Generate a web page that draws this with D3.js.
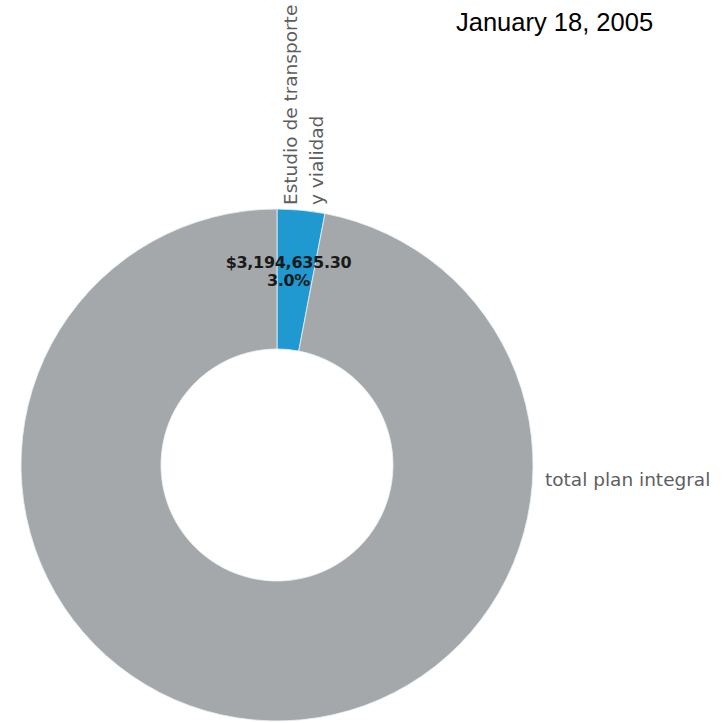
<!DOCTYPE html>
<html>
<head>
<meta charset="utf-8">
<script src="https://cdn.jsdelivr.net/npm/d3@7"></script>
<style>
  html, body { margin: 0; padding: 0; background: #ffffff; }
  svg { display: block; }
</style>
</head>
<body>
<svg id="chart" width="726" height="723"></svg>
<script>
// ---- data ----
const categories = ["Estudio de transporte y vialidad", "total plan integral"];
const values = [3194635.30, 103293200];
const valueLabels = ["$3,194,635.30", ""];
const percentLabels = ["3.0%", ""];
const categoryLines = [["Estudio de transporte", "y vialidad"], ["total plan integral"]];
const colors = ["#1f99cf", "#a5a8aa"];
const dateTitle = "January 18, 2005";

// ---- layout ----
const W = 726, H = 723;
const cx = 277, cy = 465;
const outerR = 256, innerR = 116;

const svg = d3.select("#chart");

const pie = d3.pie().sort(null).value(d => d.value);
const data = categories.map((c, i) => ({ name: c, value: values[i], i }));
const arcs = pie(data);
const arc = d3.arc().innerRadius(innerR).outerRadius(outerR);

const g = svg.append("g").attr("transform", `translate(${cx},${cy})`);

g.selectAll("path.slice")
  .data(arcs)
  .join("path")
  .attr("class", "slice")
  .attr("d", arc)
  .attr("fill", d => colors[d.data.i])
  .attr("stroke", "#e8f2f6")
  .attr("stroke-width", 0.8);

// value labels near the centroid of the blue slice
const labelFont = "'DejaVu Sans', Verdana, sans-serif";
arcs.forEach(a => {
  if (!valueLabels[a.data.i]) return;
  const [x0, y] = arc.centroid(a);
  const x = x0 - 6;
  const t = g.append("text")
    .attr("x", x)
    .attr("y", y)
    .attr("text-anchor", "middle")
    .attr("font-family", labelFont)
    .attr("font-weight", "bold")
    .attr("font-size", 16)
    .attr("fill", "#1a1a1a")
    .attr("letter-spacing", -0.3);
  t.append("tspan").attr("x", x).attr("dy", -12).text(valueLabels[a.data.i]);
  t.append("tspan").attr("x", x).attr("dy", 18).text(percentLabels[a.data.i]);
});

// category label for blue slice: rotated, above the ring
const topY = -outerR - 4;
const rot = g.append("text")
  .attr("transform", `translate(${20}, ${topY}) rotate(-90)`)
  .attr("font-family", labelFont)
  .attr("font-size", 18.5)
  .attr("fill", "#5e5e5e");
categoryLines[0].forEach((line, k) => {
  rot.append("tspan").attr("x", 0).attr("y", k * 26).text(line);
});

// category label for gray slice: to the right of the ring
g.append("text")
  .attr("x", outerR + 12)
  .attr("y", 21)
  .attr("font-family", labelFont)
  .attr("font-size", 18.5)
  .attr("fill", "#5e5e5e")
  .text(categoryLines[1][0]);

// date
svg.append("text")
  .attr("x", 456)
  .attr("y", 31)
  .attr("font-family", "'Liberation Sans', Arial, sans-serif")
  .attr("font-size", 25.5)
  .attr("fill", "#000")
  .text(dateTitle);
</script>
</body>
</html>
